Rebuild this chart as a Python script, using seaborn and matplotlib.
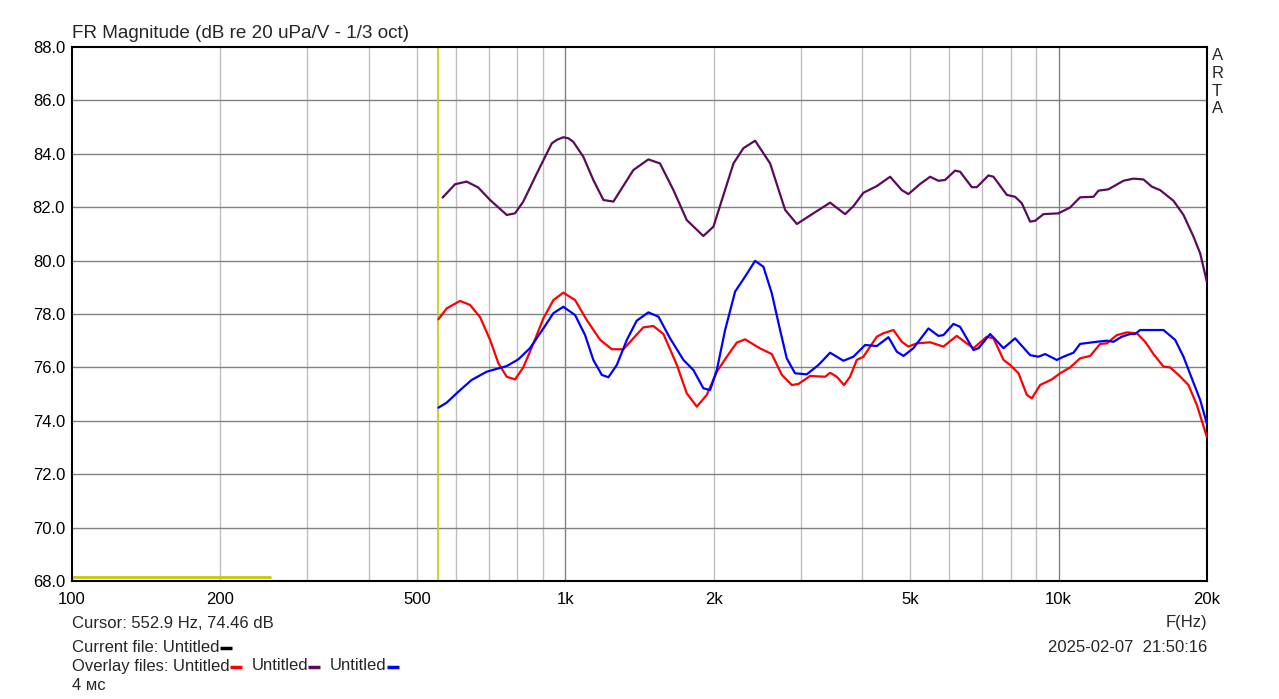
import pandas as pd
import seaborn as sns
import matplotlib.pyplot as plt

# overlay curves (Hz, dB)
freq_purple = [564, 598, 631, 666, 704, 761, 791, 822, 876, 939, 961, 991, 1015, 1038, 1088, 1140, 1195,
               1252, 1374, 1474, 1556, 1657, 1763, 1905, 1997, 2193, 2297, 2426, 2602, 2791, 2948, 3184,
               3443, 3693, 3839, 4022, 4281, 4557, 4811, 4962, 5241, 5492, 5708, 5889, 6170, 6316,
               6672, 6830, 7211, 7382, 7857, 8166, 8424, 8758, 8964, 9321, 9996, 10556, 11060,
               11773, 12051, 12623, 13540, 14186, 14866, 15456, 16069, 17102, 17921, 18776, 19374, 19984]
db_purple = [82.36, 82.86, 82.96, 82.74, 82.27, 81.71, 81.77, 82.21, 83.27, 84.39, 84.52, 84.62, 84.58,
             84.45, 83.89, 83.02, 82.27, 82.21, 83.39, 83.79, 83.64, 82.64, 81.52, 80.92, 81.27, 83.64,
             84.21, 84.49, 83.64, 81.90, 81.37, 81.77, 82.17, 81.74, 82.04, 82.54, 82.79, 83.14, 82.64,
             82.49, 82.87, 83.14, 82.99, 83.02, 83.37, 83.33, 82.75, 82.75, 83.19, 83.14, 82.46, 82.39,
             82.15, 81.46, 81.49, 81.74, 81.77, 81.99, 82.37, 82.39, 82.62, 82.67, 82.99, 83.07, 83.04,
             82.77, 82.64, 82.24, 81.71, 80.90, 80.27, 79.21]

freq_red = [553, 575, 612, 641, 672, 704, 732, 761, 791, 822, 862, 903, 946, 991, 1047, 1105, 1177,
            1243, 1312, 1374, 1440, 1509, 1581, 1684, 1763, 1848, 1936, 2029, 2126, 2227, 2315, 2484,
            2622, 2748, 2879, 2970, 3136, 3364, 3443, 3551, 3675, 3779, 3899, 4022, 4281, 4416, 4627,
            4811, 4962, 5160, 5492, 5843, 6218, 6517, 6724, 7155, 7382, 7736, 7980, 8296, 8626, 8828,
            9177, 9690, 10074, 10556, 11060, 11590, 12145, 12528, 13128, 13756, 14410, 14985, 15577,
            16321, 16837, 17510, 18342, 19077, 19984]
db_red = [77.80, 78.21, 78.49, 78.34, 77.88, 77.03, 76.15, 75.65, 75.55, 76.00, 76.90, 77.84, 78.52,
          78.80, 78.52, 77.78, 77.03, 76.68, 76.68, 77.09, 77.50, 77.55, 77.25, 76.09, 75.03, 74.53,
          74.97, 75.84, 76.40, 76.93, 77.05, 76.71, 76.50, 75.72, 75.34, 75.38, 75.68, 75.65, 75.80,
          75.65, 75.34, 75.65, 76.28, 76.40, 77.15, 77.28, 77.40, 76.96, 76.78, 76.90, 76.94, 76.78,
          77.18, 76.90, 76.72, 77.15, 77.09, 76.28, 76.09, 75.78, 74.97, 74.84, 75.34, 75.55, 75.78,
          76.00, 76.34, 76.43, 76.88, 76.90, 77.21, 77.31, 77.28, 76.96, 76.50, 76.03, 76.00, 75.72,
          75.34, 74.59, 73.40]

freq_blue = [553, 575, 607, 646, 693, 761, 803, 848, 903, 946, 991, 1047, 1097, 1140, 1186, 1223, 1272,
             1333, 1396, 1474, 1545, 1631, 1736, 1819, 1905, 1966, 2029, 2109, 2210, 2315, 2426, 2522,
             2622, 2726, 2812, 2923, 3087, 3261, 3443, 3664, 3839, 4054, 4281, 4521, 4700, 4849, 5080,
             5449, 5708, 5843, 6124, 6316, 6724, 6883, 7267, 7736, 8166, 8758, 9104, 9393, 9920, 10233,
             10723, 11060, 11956, 12528, 12924, 13435, 13964, 14290, 14636, 16321, 17238, 17921, 18630,
             19374, 19984]
db_blue = [74.49, 74.68, 75.09, 75.53, 75.84, 76.05, 76.30, 76.72, 77.46, 78.03, 78.27, 77.96, 77.21,
           76.28, 75.72, 75.63, 76.09, 77.03, 77.75, 78.06, 77.90, 77.09, 76.28, 75.90, 75.22, 75.15,
           75.90, 77.40, 78.84, 79.40, 79.99, 79.77, 78.78, 77.40, 76.34, 75.78, 75.74, 76.09, 76.55,
           76.25, 76.40, 76.84, 76.80, 77.13, 76.59, 76.43, 76.72, 77.46, 77.18, 77.21, 77.63, 77.52,
           76.65, 76.72, 77.25, 76.72, 77.09, 76.46, 76.40, 76.50, 76.28, 76.40, 76.55, 76.88, 76.96,
           77.00, 76.96, 77.15, 77.25, 77.25, 77.40, 77.40, 77.03, 76.40, 75.59, 74.78, 73.90]

cursor_freq = 552.9
window_freq = [100, 252]
window_db = [68.15, 68.15]

xtick_freqs = [100, 200, 500, 1000, 2000, 5000, 10000, 20000]
xtick_labels = ["100", "200", "500", "1k", "2k", "5k", "10k", "20k"]
minor_grid = [200, 300, 400, 500, 600, 700, 800, 900, 2000, 3000, 4000, 5000, 6000, 7000, 8000, 9000]
major_grid = [1000, 10000]
ytick_vals = [68, 70, 72, 74, 76, 78, 80, 82, 84, 86, 88]

colors = {"red": "#ff0000", "purple": "#5c0a5c", "blue": "#0000ff"}

df = pd.concat([
    pd.DataFrame({"f": freq_red, "db": db_red, "file": "red"}),
    pd.DataFrame({"f": freq_purple, "db": db_purple, "file": "purple"}),
    pd.DataFrame({"f": freq_blue, "db": db_blue, "file": "blue"}),
])

sns.set_theme(style="white")
plt.rcParams['font.family'] = ['Liberation Sans', 'DejaVu Sans']

W, H = 1279, 699
FS = 12
fig = plt.figure(figsize=(W / 100, H / 100), dpi=100)
ax = fig.add_axes([72 / W, 1 - 581 / H, (1207 - 72) / W, (581 - 47) / H])
ax.set_xscale("log")

for f in minor_grid:
    ax.axvline(f, color="#c0c0c0", lw=1, zorder=1)
for f in major_grid:
    ax.axvline(f, color="#808080", lw=1, zorder=1)
for v in ytick_vals[1:-1]:
    ax.axhline(v, color="#808080", lw=1, zorder=1)

sns.lineplot(data=df, x="f", y="db", hue="file", palette=colors, estimator=None, sort=False,
             lw=1.6, legend=False, ax=ax, zorder=3)

ax.axvline(cursor_freq, color="#c8c800", lw=1.2, zorder=2)
ax.plot(window_freq, window_db, color="#c8c800", lw=2, zorder=2)

ax.set_xlim(100, 20000)
ax.set_ylim(68, 88)
ax.set_xticks(xtick_freqs)
ax.set_xticklabels(xtick_labels)
ax.set_xticks([], minor=True)
ax.set_yticks(ytick_vals)
ax.set_yticklabels([f"{v:.1f}" for v in ytick_vals])
ax.tick_params(axis="both", length=0, labelsize=FS, colors="black")
ax.tick_params(axis="x", pad=8)
ax.tick_params(axis="y", pad=5)
ax.set_xlabel("")
ax.set_ylabel("")
for s in ax.spines.values():
    s.set_color("black")
    s.set_linewidth(1.5)

fig.text(72 / W, 1 - 33 / H, "FR Magnitude (dB re 20 uPa/V - 1/3 oct)", fontsize=13.6,
         va="center", ha="left")
for i, ch in enumerate("ARTA"):
    fig.text(1212 / W, 1 - (56 + i * 17.5) / H, ch, fontsize=FS, va="center", ha="left")

fig.text(1207 / W, 1 - 623 / H, "F(Hz)", fontsize=FS, va="center", ha="right")
fig.text(1207 / W, 1 - 647 / H, "2025-02-07  21:50:16", fontsize=FS, va="center", ha="right")
fig.text(72 / W, 1 - 623 / H, "Cursor: 552.9 Hz, 74.46 dB", fontsize=FS, va="center", ha="left")
fig.text(72 / W, 1 - 686 / H, "4 мс", fontsize=FS, va="center", ha="left")

renderer = fig.canvas.get_renderer()


def text_run(y_px, pieces):
    # write text pieces in a row, each followed by an optional colour dash
    x_px = 72
    for label, col in pieces:
        t = fig.text(x_px / W, 1 - y_px / H, label, fontsize=FS, va="center", ha="left")
        x_px += t.get_window_extent(renderer).width
        if col is not None:
            fig.add_artist(plt.Line2D([x_px / W, (x_px + 12) / W],
                                      [1 - (y_px + 1) / H, 1 - (y_px + 1) / H],
                                      color=col, lw=2.5, solid_capstyle="butt",
                                      transform=fig.transFigure))
            x_px += 22


text_run(647, [("Current file: Untitled", "black")])
text_run(666, [("Overlay files: Untitled", colors["red"]), ("Untitled", colors["purple"]),
               ("Untitled", colors["blue"])])

fig.savefig("out.png", dpi=100, facecolor="white")
